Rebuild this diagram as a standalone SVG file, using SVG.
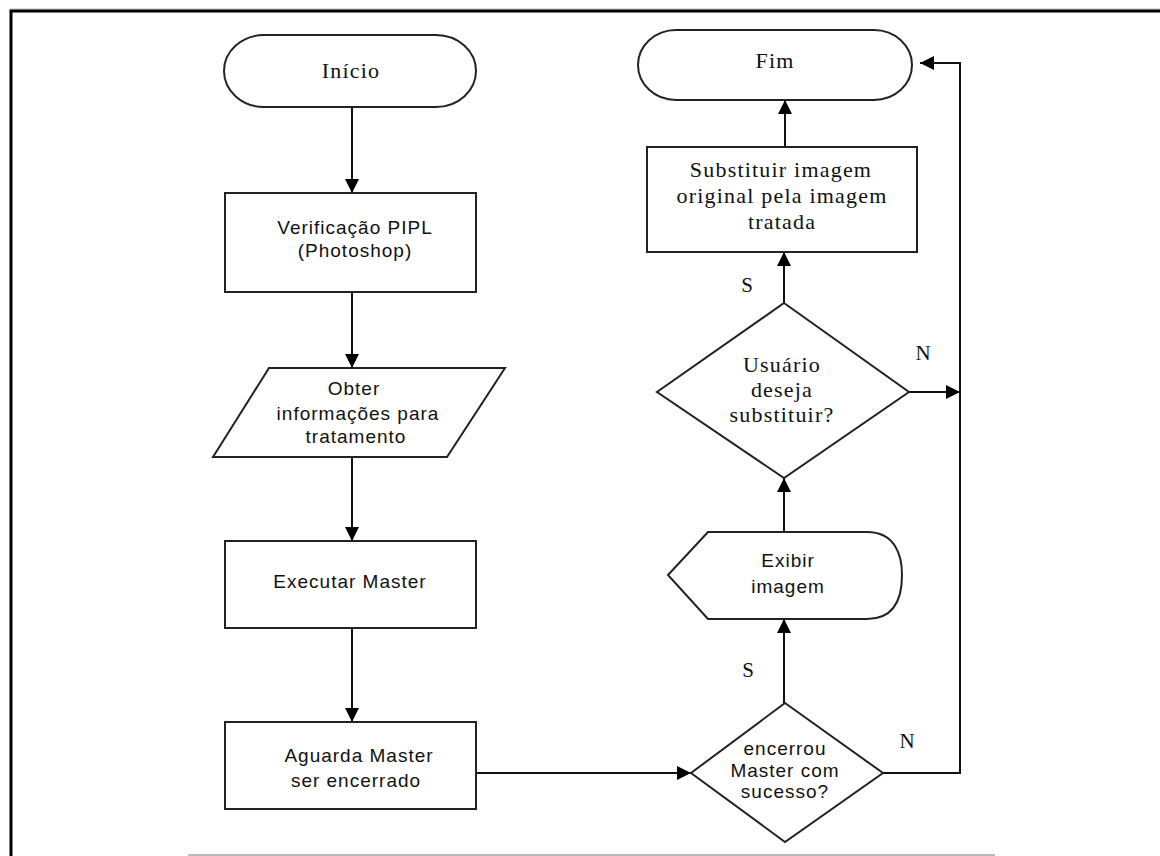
<svg xmlns="http://www.w3.org/2000/svg" width="1160" height="856" viewBox="0 0 1160 856">
  <defs>
    <marker id="arrow" viewBox="0 0 14 14" refX="14" refY="7" markerWidth="14" markerHeight="14" markerUnits="userSpaceOnUse" orient="auto">
      <path d="M0,0 L14,7 L0,14 Z" fill="#000"/>
    </marker>
    <style>
      .shape { fill: #fff; stroke: #222; stroke-width: 2; }
      .link { fill: none; stroke: #111; stroke-width: 2; }
      .serif { font-family: "Liberation Serif", "Times New Roman", serif; font-size: 22px; letter-spacing: 1.2px; fill: #111; text-anchor: middle; }
      .sans { font-family: "Liberation Sans", Arial, sans-serif; font-size: 19px; letter-spacing: 1px; fill: #111; text-anchor: middle; }
      .lbl { font-family: "Liberation Serif", "Times New Roman", serif; font-size: 21px; fill: #111; text-anchor: middle; }
    </style>
  </defs>

  <rect width="1160" height="856" fill="#fff"/>

  <!-- page frame -->
  <line x1="10" y1="9" x2="1160" y2="9" stroke="#bbb" stroke-width="1"/>
  <path d="M11,856 V11 H1160" fill="none" stroke="#000" stroke-width="3"/>
  <line x1="188" y1="855" x2="995" y2="855" stroke="#bbb" stroke-width="2"/>

  <!-- connectors -->
  <g id="connectors">
    <line class="link" x1="352" y1="107" x2="352" y2="193" marker-end="url(#arrow)"/>
    <line class="link" x1="352" y1="292" x2="352" y2="368" marker-end="url(#arrow)"/>
    <line class="link" x1="352" y1="457" x2="352" y2="541" marker-end="url(#arrow)"/>
    <line class="link" x1="352" y1="628" x2="352" y2="722" marker-end="url(#arrow)"/>
    <line class="link" x1="476" y1="773" x2="691" y2="773" marker-end="url(#arrow)"/>
    <line class="link" x1="784" y1="703" x2="784" y2="619" marker-end="url(#arrow)"/>
    <line class="link" x1="784" y1="532" x2="784" y2="478" marker-end="url(#arrow)"/>
    <line class="link" x1="784" y1="303" x2="784" y2="252" marker-end="url(#arrow)"/>
    <line class="link" x1="785" y1="147" x2="785" y2="100" marker-end="url(#arrow)"/>
    <line class="link" x1="909" y1="392" x2="960" y2="392" marker-end="url(#arrow)"/>
    <path class="link" d="M883,773 H960 V63 H920" marker-end="url(#arrow)"/>
    <text class="lbl" x="748" y="677">S</text>
    <text class="lbl" x="907" y="748">N</text>
    <text class="lbl" x="747" y="292">S</text>
    <text class="lbl" x="923" y="360">N</text>
  </g>

  <g id="inicio">
    <rect class="shape" x="224" y="35" width="252" height="72" rx="40" ry="36"/>
    <text class="serif" x="351" y="78">Início</text>
  </g>

  <g id="verificacao">
    <rect class="shape" x="225" y="193" width="251" height="99"/>
    <text class="sans" x="355" y="234">Verificação PIPL</text>
    <text class="sans" x="355" y="257">(Photoshop)</text>
  </g>

  <g id="obter">
    <polygon class="shape" points="269,368 505,368 447,457 213,457"/>
    <text class="sans" x="354" y="395">Obter</text>
    <text class="sans" x="358" y="420">informações para</text>
    <text class="sans" x="356" y="443">tratamento</text>
  </g>

  <g id="executar">
    <rect class="shape" x="225" y="541" width="251" height="87"/>
    <text class="sans" x="350" y="588">Executar Master</text>
  </g>

  <g id="aguarda">
    <rect class="shape" x="225" y="722" width="251" height="87"/>
    <text class="sans" x="359" y="762">Aguarda Master</text>
    <text class="sans" x="356" y="787">ser encerrado</text>
  </g>

  <g id="encerrou">
    <polygon class="shape" points="785,703 883,773 785,842 691,773"/>
    <text class="sans" x="785" y="755">encerrou</text>
    <text class="sans" x="785" y="777">Master com</text>
    <text class="sans" x="785" y="798">sucesso?</text>
  </g>

  <g id="exibir">
    <path class="shape" d="M668,575 L708,532 H867 C895,532 902,555 902,575 C902,597 895,619 867,619 H708 Z"/>
    <text class="sans" x="788" y="567">Exibir</text>
    <text class="sans" x="788" y="593">imagem</text>
  </g>

  <g id="usuario">
    <polygon class="shape" points="784,303 909,392 784,478 657,392"/>
    <text class="serif" x="782" y="372">Usuário</text>
    <text class="serif" x="782" y="397">deseja</text>
    <text class="serif" x="782" y="422">substituir?</text>
  </g>

  <g id="substituir">
    <rect class="shape" x="647" y="147" width="270" height="105"/>
    <text class="serif" x="781" y="177">Substituir imagem</text>
    <text class="serif" x="782" y="203">original pela imagem</text>
    <text class="serif" x="782" y="229">tratada</text>
  </g>

  <g id="fim">
    <rect class="shape" x="638" y="30" width="274" height="70" rx="38" ry="35"/>
    <text class="serif" x="775" y="68">Fim</text>
  </g>
</svg>
